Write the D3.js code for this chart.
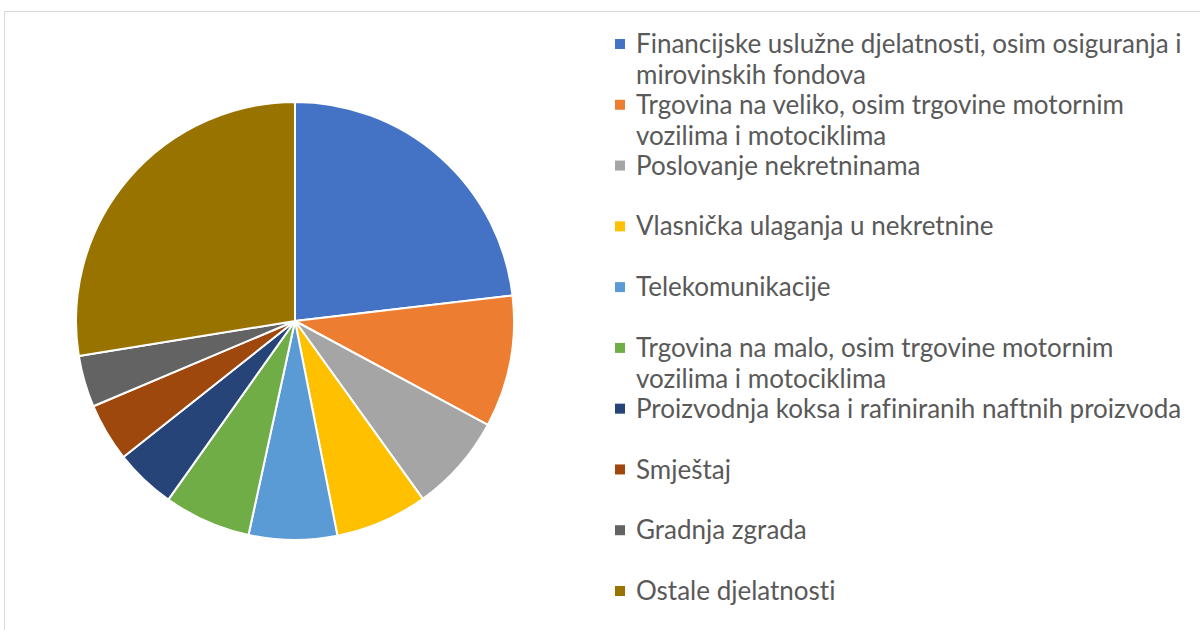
<!DOCTYPE html>
<html>
<head>
<meta charset="utf-8">
<script src="https://cdn.jsdelivr.net/npm/d3@7"></script>
<style>
  html, body { margin: 0; padding: 0; background: #fff; }
  svg { display: block; }
  .legend text { font-family: Lato, "Open Sans", sans-serif; fill: #595959;
    font-variant-ligatures: none; font-feature-settings: "liga" 0, "clig" 0; }
</style>
</head>
<body>
<svg id="chart" width="1200" height="630"></svg>
<script>
// categories and shares (%)
const categories = [
  "Financijske uslužne djelatnosti, osim osiguranja i mirovinskih fondova",
  "Trgovina na veliko, osim trgovine motornim vozilima i motociklima",
  "Poslovanje nekretninama",
  "Vlasnička ulaganja u nekretnine",
  "Telekomunikacije",
  "Trgovina na malo, osim trgovine motornim vozilima i motociklima",
  "Proizvodnja koksa i rafiniranih naftnih proizvoda",
  "Smještaj",
  "Gradnja zgrada",
  "Ostale djelatnosti"
];
const shares = [23.1, 9.7, 7.2, 6.8, 6.5, 6.4, 4.5, 4.3, 3.8, 27.5];
const colors = ["#4472c4", "#ed7d31", "#a5a5a5", "#ffc000", "#5b9bd5",
                "#70ad47", "#264478", "#9e480e", "#636363", "#997300"];

const svg = d3.select("#chart");

// chart area border
svg.append("rect")
  .attr("x", 4.5).attr("y", 11.5)
  .attr("width", 1200).attr("height", 630)
  .attr("fill", "none")
  .attr("stroke", "#d9d9d9")
  .attr("stroke-width", 1);

const data = categories.map((c, i) => ({ name: c, value: shares[i], color: colors[i] }));

const cx = 295, cy = 321, radius = 219;

const pie = d3.pie().sort(null).value(d => d.value);
const arc = d3.arc().innerRadius(0).outerRadius(radius);

const g = svg.append("g").attr("transform", `translate(${cx},${cy})`);
g.selectAll("path")
  .data(pie(data))
  .join("path")
  .attr("d", arc)
  .attr("fill", d => d.data.color)
  .attr("stroke", "#fff")
  .attr("stroke-width", 2)
  .attr("stroke-linejoin", "round");

// legend
const y = d3.scalePoint().domain(categories).range([44, 591]);
const maxWidth = 560;
const lineGap = 31;

const legend = svg.append("g").attr("class", "legend");
const items = legend.selectAll("g")
  .data(data)
  .join("g")
  .attr("transform", d => `translate(615,${y(d.name)})`);

items.append("rect")
  .attr("x", 0).attr("y", -5)
  .attr("width", 10).attr("height", 10)
  .attr("fill", d => d.color);

items.append("text")
  .style("font-size", "26px")
  .each(function(d) {
    // simple word wrap
    const text = d3.select(this);
    const words = d.name.split(" ");
    let line = [];
    let lineNo = 0;
    let tspan = text.append("tspan").attr("x", 21).attr("y", 0).attr("dy", "0.35em");
    words.forEach(w => {
      line.push(w);
      tspan.text(line.join(" "));
      if (tspan.node().getComputedTextLength() > maxWidth && line.length > 1) {
        line.pop();
        tspan.text(line.join(" "));
        line = [w];
        lineNo++;
        tspan = text.append("tspan")
          .attr("x", 21)
          .attr("y", lineNo * lineGap)
          .attr("dy", "0.35em")
          .text(w);
      }
    });
  });
</script>
</body>
</html>
